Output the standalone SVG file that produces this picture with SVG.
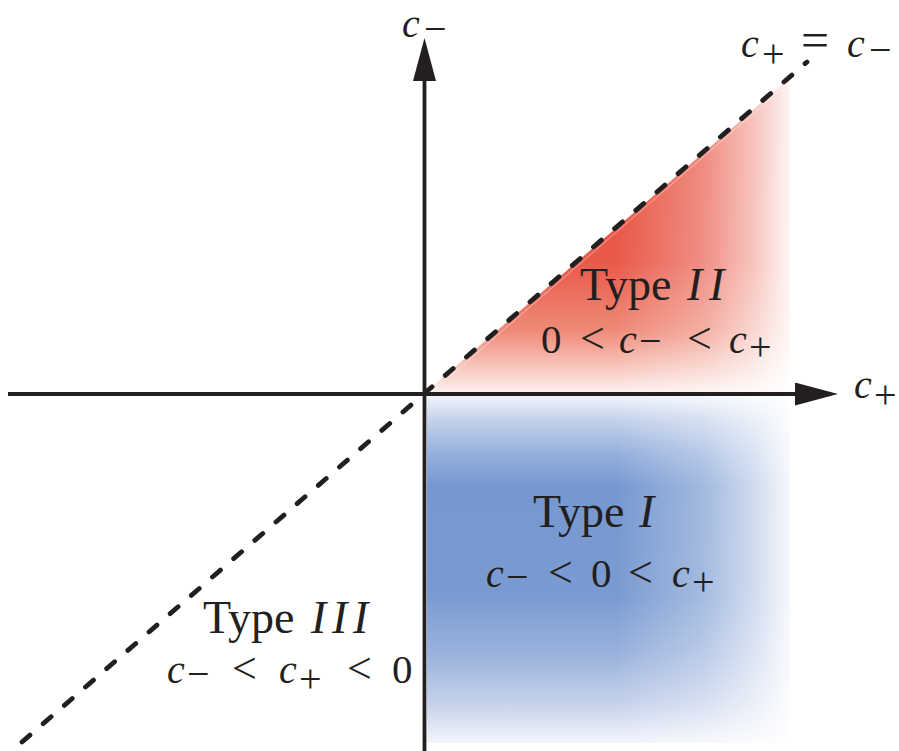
<svg xmlns="http://www.w3.org/2000/svg" width="899" height="751" viewBox="0 0 899 751">
<defs>
<style>
.t{font-family:"Liberation Serif","Times New Roman",serif;font-size:46px;fill:#231f20}
.it{font-style:italic}
.c{font-family:"Liberation Serif","Times New Roman",serif;font-style:italic;font-size:40px;fill:#231f20}
.n{font-family:"Liberation Serif","Times New Roman",serif;font-size:41px;fill:#231f20}
.op{font-family:"Liberation Serif","Times New Roman",serif;font-size:44px;fill:#231f20;font-style:normal}
.eq{font-family:"Liberation Serif","Times New Roman",serif;font-size:50px;fill:#231f20;font-style:normal}
.sub{font-family:"Liberation Serif","Times New Roman",serif;font-size:40px;fill:#231f20;font-style:normal}
.axis{stroke:#231f20;stroke-width:3.8;fill:none}
.dash{stroke:#231f20;stroke-width:4.8;fill:none;stroke-linecap:round;stroke-dasharray:10.5 17.5}
</style>
<marker id="arr" markerUnits="userSpaceOnUse" markerWidth="44" markerHeight="24" refX="0" refY="11.5" orient="auto">
<path d="M0,0 L43,11.5 L0,23 Z" fill="#231f20"/>
</marker>
<linearGradient id="redV" gradientUnits="userSpaceOnUse" x1="0" y1="78" x2="0" y2="394">
<stop offset="0" stop-color="#e8523f"/>
<stop offset="0.58" stop-color="#e9594a"/>
<stop offset="0.8" stop-color="#ef8a78"/>
<stop offset="1" stop-color="#fdf3f1"/>
</linearGradient>
<linearGradient id="blueV" gradientUnits="userSpaceOnUse" x1="0" y1="396" x2="0" y2="743">
<stop offset="0" stop-color="#f1f4fb"/>
<stop offset="0.07" stop-color="#c4d1ea"/>
<stop offset="0.17" stop-color="#94aedc"/>
<stop offset="0.26" stop-color="#7698d0"/>
<stop offset="0.58" stop-color="#7a9bd1"/>
<stop offset="0.74" stop-color="#9ab1dc"/>
<stop offset="0.88" stop-color="#c3d0ea"/>
<stop offset="1" stop-color="#f3f5fb"/>
</linearGradient>
<linearGradient id="fadeH" gradientUnits="userSpaceOnUse" x1="427" y1="0" x2="790" y2="0">
<stop offset="0" stop-color="#fff" stop-opacity="0"/>
<stop offset="0.52" stop-color="#fff" stop-opacity="0"/>
<stop offset="0.76" stop-color="#fff" stop-opacity="0.32"/>
<stop offset="0.9" stop-color="#fff" stop-opacity="0.65"/>
<stop offset="1" stop-color="#fff" stop-opacity="0.94"/>
</linearGradient>
</defs>
<rect width="899" height="751" fill="#fff"/>
<g id="regions">
<path id="type2-fill" d="M426,392 L790,392 L790,78 Z" fill="url(#redV)"/>
<rect id="type1-fill" x="427" y="396" width="363" height="347" fill="url(#blueV)"/>
<rect x="427" y="70" width="363" height="673" fill="url(#fadeH)"/>
<line x1="433" y1="391" x2="792" y2="80" stroke="#fff" stroke-opacity="0.45" stroke-width="1"/>
</g>
<g id="connectors">
<line class="dash" x1="22" y1="742" x2="807" y2="62"/>
<line class="axis" x1="424.5" y1="751" x2="424.5" y2="81" marker-end="url(#arr)"/>
<line class="axis" x1="8" y1="394" x2="795" y2="394" marker-end="url(#arr)"/>
</g>
<g id="axis-labels">
<text id="label-cminus"><tspan class="c" x="402" y="36.5">c</tspan><tspan class="sub" x="424" y="42">−</tspan></text>
<text id="label-cplus"><tspan class="c" x="854" y="398">c</tspan><tspan class="sub" x="874" y="407.5">+</tspan></text>
<text id="label-diag"><tspan class="c" x="741" y="57">c</tspan><tspan class="sub" x="762" y="67">+</tspan> <tspan class="eq" x="801" y="57">=</tspan> <tspan class="c" x="847" y="57">c</tspan><tspan class="sub" x="869" y="63">−</tspan></text>
</g>
<g id="type2">
<text class="t" x="580" y="300">Type <tspan class="it" x="687">I</tspan><tspan class="it" x="709">I</tspan></text>
<text><tspan class="n" x="541" y="353">0</tspan> <tspan class="op" x="580" y="353">&lt;</tspan> <tspan class="c" x="619" y="353">c</tspan><tspan class="sub" x="639" y="354">−</tspan> <tspan class="op" x="687" y="353">&lt;</tspan> <tspan class="c" x="729" y="353">c</tspan><tspan class="sub" x="749" y="360">+</tspan></text>
</g>
<g id="type1">
<text class="t" x="533" y="527">Type <tspan class="it" x="639">I</tspan></text>
<text><tspan class="c" x="486" y="587">c</tspan><tspan class="sub" x="506" y="590">−</tspan> <tspan class="op" x="548" y="587">&lt;</tspan> <tspan class="n" x="591" y="587">0</tspan> <tspan class="op" x="628" y="587">&lt;</tspan> <tspan class="c" x="672" y="587">c</tspan><tspan class="sub" x="692" y="595">+</tspan></text>
</g>
<g id="type3">
<text class="t" x="203" y="633">Type <tspan class="it" x="311">I</tspan><tspan class="it" x="332">I</tspan><tspan class="it" x="353">I</tspan></text>
<text><tspan class="c" x="167" y="683">c</tspan><tspan class="sub" x="187" y="687">−</tspan> <tspan class="op" x="232" y="683">&lt;</tspan> <tspan class="c" x="279" y="683">c</tspan><tspan class="sub" x="299" y="692">+</tspan> <tspan class="op" x="347" y="683">&lt;</tspan> <tspan class="n" x="392" y="683">0</tspan></text>
</g>
</svg>
